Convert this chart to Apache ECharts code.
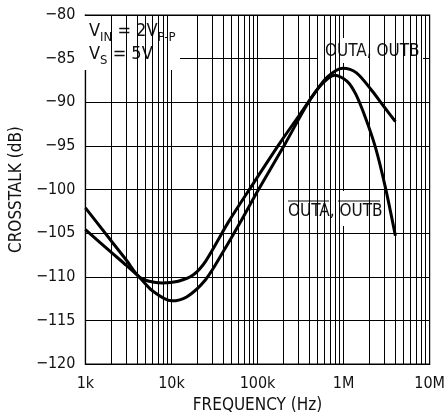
<!DOCTYPE html>
<html>
<head>
<meta charset="utf-8">
<script src="https://cdn.jsdelivr.net/npm/echarts@6/dist/echarts.min.js"></script>
<style>
html,body{margin:0;padding:0;background:#fff;}
#c{width:448px;height:419px;}
</style>
</head>
<body>
<div id="c"></div>
<script>
// ---- data ----
const freqOut = [1000, 2000, 3000, 4200, 5500, 7800, 12000, 17800, 25000, 46000, 88000, 184000, 300000, 450000, 650000, 980000, 1400000, 2150000, 3000000, 4000000];
const xtalkOut = [-102.1, -105.9, -108.1, -110.0, -110.5, -110.7, -110.5, -109.8, -108.2, -103.7, -99.4, -94.6, -91.6, -89.1, -87.1, -86.1, -86.6, -88.7, -90.6, -92.2];

const freqOutBar = [1000, 2000, 3000, 4200, 6000, 10000, 15000, 25000, 40000, 66000, 100000, 208000, 380000, 550000, 790000, 1100000, 1390000, 1800000, 2350000, 3050000, 4000000];
const xtalkOutBar = [-104.6, -107.2, -108.7, -110.0, -111.6, -112.75, -112.3, -110.3, -107.1, -103.4, -100.2, -94.8, -90.2, -88.0, -86.9, -87.6, -89.1, -91.8, -95.2, -99.7, -105.3];

const xTickLabels = {1000: '1k', 10000: '10k', 100000: '100k', 1000000: '1M', 10000000: '10M'};
const decades = [1000, 10000, 100000, 1000000];
const minorMultipliers = [2, 3, 4, 5, 6, 7, 8, 9];

const FONT = '"Liberation Sans Narrow", "DejaVu Sans Condensed", "Liberation Sans", sans-serif';

const minorLines = [];
decades.forEach(d => minorMultipliers.forEach(m => minorLines.push({xAxis: d * m})));

const zip = (xs, ys) => xs.map((x, i) => [x, ys[i]]);

const chart = echarts.init(document.getElementById('c'), null, {renderer: 'canvas'});
chart.setOption({
  animation: false,
  backgroundColor: '#fff',
  grid: {left: 80, right: 16, top: 15, bottom: 53, show: true, borderColor: '#000', borderWidth: 1.2},
  xAxis: {
    type: 'log', logBase: 10, min: 1000, max: 10000000,
    name: 'FREQUENCY (Hz)', nameLocation: 'middle', nameGap: 32,
    nameTextStyle: {fontFamily: FONT, fontSize: 17, color: '#111'},
    axisLine: {show: true, lineStyle: {color: '#000', width: 1.2}},
    axisTick: {show: false},
    axisLabel: {fontFamily: FONT, fontSize: 16, color: '#111', margin: 12,
      formatter: v => xTickLabels[Math.round(v)] || ''},
    splitLine: {show: true, lineStyle: {color: '#000', width: 1}}
  },
  yAxis: {
    type: 'value', min: -120, max: -80, interval: 5,
    name: 'CROSSTALK (dB)', nameLocation: 'middle', nameGap: 60,
    nameTextStyle: {fontFamily: FONT, fontSize: 17, color: '#111'},
    axisLine: {show: true, lineStyle: {color: '#000', width: 1.2}},
    axisTick: {show: false},
    axisLabel: {fontFamily: FONT, fontSize: 16, color: '#111', margin: 10,
      formatter: v => (v < 0 ? '\u2212' : '') + Math.abs(v)},
    splitLine: {show: true, lineStyle: {color: '#000', width: 1}}
  },
  series: [
    {
      type: 'line', data: [], z: 1, silent: true,
      markLine: {
        silent: true, symbol: ['none', 'none'], animation: false,
        label: {show: false},
        lineStyle: {color: '#000', width: 1, type: 'solid'},
        emphasis: {disabled: true},
        data: minorLines
      }
    },
    {
      name: 'OUTA, OUTB', type: 'line', z: 5, smooth: 0.3, showSymbol: false,
      lineStyle: {color: '#000', width: 3}, data: zip(freqOut, xtalkOut)
    },
    {
      name: 'OUTA-bar, OUTB-bar', type: 'line', z: 5, smooth: 0.3, showSymbol: false,
      lineStyle: {color: '#000', width: 3}, data: zip(freqOutBar, xtalkOutBar)
    }
  ],
  graphic: [
    {type: 'rect', z: 3, shape: {x: 81, y: 16, width: 99, height: 54}, style: {fill: '#fff'}},
    {type: 'rect', z: 3, shape: {x: 317, y: 38, width: 106, height: 25}, style: {fill: '#fff'}},
    {type: 'rect', z: 3, shape: {x: 285, y: 191, width: 98, height: 35}, style: {fill: '#fff'}},
    {type: 'text', z: 4, left: 89, top: 22, style: {
      text: '{n|V}{s|IN}{n| = 2V}{s|P-P}', fontFamily: FONT,
      rich: {n: {fontSize: 18, fontFamily: FONT, fill: '#111', verticalAlign: 'bottom', lineHeight: 18},
             s: {fontSize: 13, fontFamily: FONT, fill: '#111', verticalAlign: 'bottom', lineHeight: 13, padding: [0, 0, -4, 0]}}
    }},
    {type: 'text', z: 4, left: 89, top: 45, style: {
      text: '{n|V}{s|S}{n| = 5V}', fontFamily: FONT,
      rich: {n: {fontSize: 18, fontFamily: FONT, fill: '#111', verticalAlign: 'bottom', lineHeight: 18},
             s: {fontSize: 13, fontFamily: FONT, fill: '#111', verticalAlign: 'bottom', lineHeight: 13, padding: [0, 0, -4, 0]}}
    }},
    {type: 'text', z: 4, left: 325, top: 43, style: {text: 'OUTA, OUTB', fontFamily: FONT, fontSize: 17, fill: '#111'}},
    {type: 'text', z: 4, left: 288, top: 203, style: {text: 'OUTA, OUTB', fontFamily: FONT, fontSize: 17, fill: '#111'}},
    {type: 'line', z: 4, shape: {x1: 288, y1: 201, x2: 329, y2: 201}, style: {stroke: '#111', lineWidth: 1.2}},
    {type: 'line', z: 4, shape: {x1: 338, y1: 201, x2: 380, y2: 201}, style: {stroke: '#111', lineWidth: 1.2}}
  ]
});
</script>
</body>
</html>
